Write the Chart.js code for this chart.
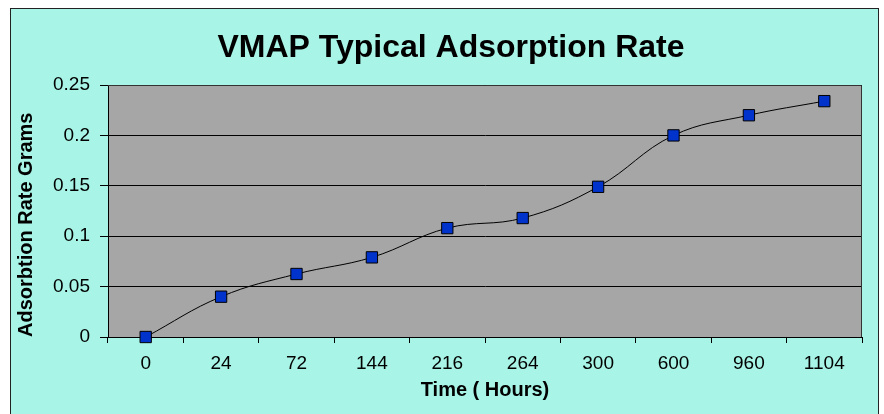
<!DOCTYPE html>
<html>
<head>
<meta charset="utf-8">
<script src="https://cdn.jsdelivr.net/npm/chart.js@4"></script>
<style>
  body { margin: 0; background: #fff; }
  #frame { position: absolute; left: 10px; top: 8px; width: 869px; height: 420px;
           background: #a8f4e6; border: 1px solid #222; box-sizing: border-box; }
  #wrap { position: absolute; left: 0; top: 0; width: 884px; height: 414px; }
</style>
</head>
<body>
<div id="frame"></div>
<div id="wrap"><canvas id="rateChart"></canvas></div>
<script>
// hours on the x axis, grams on the y axis
const hours = ['0', '24', '72', '144', '216', '264', '300', '600', '960', '1104'];
const grams = [0, 0.04, 0.0625, 0.079, 0.108, 0.118, 0.149, 0.2, 0.22, 0.234];
const yTicks = [0, 0.05, 0.1, 0.15, 0.2, 0.25];

const fontFamily = "'Liberation Sans', Arial, sans-serif";

// gray plot area with a dark frame, like the old Excel chart
const plotArea = {
  id: 'plotArea',
  beforeDraw(chart) {
    const {ctx, chartArea: a} = chart;
    ctx.save();
    ctx.fillStyle = '#a6a6a6';
    ctx.fillRect(a.left, a.top, a.right - a.left, a.bottom - a.top);
    ctx.restore();
  },
  afterDraw(chart) {
    const {ctx, chartArea: a} = chart;
    ctx.save();
    ctx.strokeStyle = '#333';
    ctx.lineWidth = 1;
    ctx.beginPath();
    ctx.moveTo(a.left, a.top + 0.5);
    ctx.lineTo(a.right - 0.5, a.top + 0.5);
    ctx.lineTo(a.right - 0.5, a.bottom);
    ctx.stroke();
    ctx.restore();
  }
};

new Chart(document.getElementById('rateChart'), {
  type: 'line',
  data: {
    labels: hours,
    datasets: [{
      data: grams,
      borderColor: '#000',
      borderWidth: 1,
      tension: 0.4,
      pointStyle: 'rect',
      pointRadius: 8,
      pointHoverRadius: 8,
      pointBackgroundColor: '#0033cc',
      pointBorderColor: '#000',
      pointBorderWidth: 1,
      clip: false
    }]
  },
  options: {
    responsive: true,
    maintainAspectRatio: false,
    animation: false,
    // left padding pushes the title centre right, like the reference
    layout: { padding: { left: 40, right: 22, top: 0, bottom: 0 } },
    plugins: {
      legend: { display: false },
      tooltip: { enabled: false },
      title: {
        display: true,
        text: 'VMAP Typical Adsorption Rate',
        color: '#000',
        font: { family: fontFamily, size: 32, weight: 'bold', lineHeight: 1.2 },
        padding: { top: 29, bottom: 17.6 }
      }
    },
    scales: {
      x: {
        offset: true,
        afterFit(scale) { scale.height = 77; },
        grid: { offset: true, drawOnChartArea: false, color: '#000', tickLength: 6 },
        border: { color: '#000' },
        ticks: { color: '#000', padding: 9, maxRotation: 0,
                 font: { family: fontFamily, size: 19 } },
        title: {
          display: true,
          text: 'Time ( Hours)',
          color: '#000',
          font: { family: fontFamily, size: 20, weight: 'bold', lineHeight: 1.2 },
          padding: { top: 0, bottom: 12 }
        }
      },
      y: {
        min: 0,
        max: 0.25,
        afterFit(scale) { scale.width = 68; },
        afterBuildTicks(scale) { scale.ticks = yTicks.map(v => ({ value: v })); },
        grid: { color: '#000', tickLength: 8 },
        border: { color: '#000' },
        ticks: { color: '#000', padding: 10,
                 font: { family: fontFamily, size: 19 },
                 callback: v => +v.toFixed(2) },
        title: {
          display: true,
          text: 'Adsorbtion Rate Grams',
          align: 'start',
          color: '#000',
          font: { family: fontFamily, size: 20, weight: 'bold', lineHeight: 1.2 },
          padding: { top: -26, bottom: 0 }
        }
      }
    }
  },
  plugins: [plotArea]
});
</script>
</body>
</html>
